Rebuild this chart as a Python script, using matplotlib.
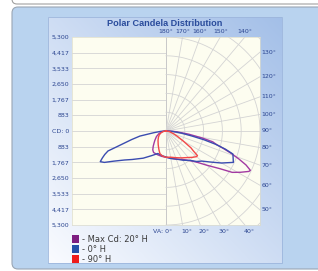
import matplotlib
matplotlib.use('Agg')
import matplotlib.pyplot as plt
import numpy as np
from matplotlib.patches import FancyBboxPatch, Rectangle

# ---- data (vertical angle in degrees from nadir, candela) ----
# 0 deg H plane (right half) and its opposite 180 deg H (left half)
blue_right_ang = [0, 10, 20, 30, 40, 45, 50, 55, 60, 65, 70, 71, 73, 75, 77, 79, 82, 86, 90]
blue_right_cd = [1470, 1580, 1680, 1900, 2170, 2430, 2640, 3050, 3610, 4190, 4020, 3990, 3500, 2900, 2200, 1500, 900, 400, 100]
blue_left_ang = [0, 10, 20, 30, 40, 50, 55, 60, 63, 65, 67, 69, 71, 72, 74, 76, 79, 82, 86, 90]
blue_left_cd = [1470, 1400, 1350, 1600, 2000, 2500, 2850, 3400, 3900, 4090, 3900, 3700, 3460, 3000, 2400, 2000, 1500, 700, 300, 80]

# 90 deg H plane (right) and 270 deg H (left)
red_right_ang = [0, 10, 20, 30, 40, 45, 50, 52, 54, 56, 60, 65, 70, 80, 90]
red_right_cd = [1480, 1500, 1600, 1750, 1950, 2100, 2250, 2250, 1900, 1700, 1100, 700, 450, 200, 50]
red_left_ang = [0, 5, 10, 15, 20, 25, 30, 40, 50, 60, 70, 80, 90]
red_left_cd = [1480, 1450, 1400, 1320, 1150, 1000, 880, 700, 560, 440, 300, 150, 40]

# max candela plane, 20 deg H (right) and 200 deg H (left)
purple_right_ang = [0, 10, 20, 30, 35, 40, 45, 50, 55, 58, 61, 64, 65, 67, 69, 71, 73, 75, 77, 79, 82, 86, 90]
purple_right_cd = [1480, 1550, 1700, 1850, 2000, 2200, 2500, 3000, 3700, 4400, 4800, 5200, 5250, 4900, 4400, 3900, 3400, 2950, 2700, 2100, 1300, 600, 150]
purple_left_ang = [0, 10, 20, 30, 35, 40, 45, 50, 60, 70, 80, 90]
purple_left_cd = [1480, 1450, 1420, 1400, 1300, 1120, 950, 820, 620, 420, 220, 60]

cd_ticks = [5300, 4417, 3533, 2650, 1767, 883, 0, -883, -1767, -2650, -3533, -4417, -5300]
cd_labels = ['5,300', '4,417', '3,533', '2,650', '1,767', '883', 'CD: 0',
             '883', '1,767', '2,650', '3,533', '4,417', '5,300']
legend_labels = ['- Max Cd: 20° H', '- 0° H', '- 90° H']
legend_colors = ['#7d1e80', '#2450a8', '#ee1c1c']
line_colors = ['#a23aa2', '#3a4cb0', '#f24848']

R = 5300
W, H = 318, 271


def curve(right_ang, right_cd, left_ang, left_cd):
    ra, rc = np.radians(right_ang), np.array(right_cd, float)
    la, lc = np.radians(left_ang), np.array(left_cd, float)
    x = np.concatenate([[0], -(lc * np.sin(la))[::-1], rc * np.sin(ra), [0]])
    y = np.concatenate([[0], -(lc * np.cos(la))[::-1], -rc * np.cos(ra), [0]])
    return x, y


fig = plt.figure(figsize=(W / 100, H / 100), dpi=100)
fig.patch.set_facecolor('white')

# ---- background decoration in pixel coords ----
bg = fig.add_axes([0, 0, 1, 1])
bg.axis('off')
bg.add_patch(FancyBboxPatch((12, -30), W + 20, 34, boxstyle='round,pad=0,rounding_size=5',
                            fc='white', ec='#a0a0a0', lw=0.8))
bg.add_patch(FancyBboxPatch((12, 7), W + 20, 262, boxstyle='round,pad=0,rounding_size=6',
                            fc='#b9d3ef', ec='#9aa6b4', lw=0.8))
gx = np.linspace(0, 1, 200)
gy = np.linspace(0, 1, 200)
GX, GY = np.meshgrid(gx, gy)
t = (GX + (1 - GY)) / 2
c0 = np.array([0.98, 0.985, 1.0])
c1 = np.array([0.64, 0.75, 0.91])
grad = c0[None, None, :] * (1 - t[..., None]) + c1[None, None, :] * t[..., None]
bg.imshow(grad, extent=(48, 282, 263, 17), origin='upper', aspect='auto', zorder=2)
bg.add_patch(Rectangle((48, 17), 234, 246, fill=False, ec='#9db6dc', lw=0.6, zorder=3))
for i, (lab, col) in enumerate(zip(legend_labels, legend_colors)):
    y0 = 235 + i * 10
    bg.add_patch(Rectangle((72, y0), 6.5, 8, fc=col, ec='none', zorder=4))
    bg.text(81.5, y0 + 4.2, lab, fontsize=6, color='#3a3a3a', va='center', ha='left', zorder=4)
bg.set_xlim(0, W)
bg.set_ylim(H, 0)

fig.text(165 / W, 1 - 23.5 / H, 'Polar Candela Distribution', ha='center', va='center',
         fontsize=6.6, fontweight='bold', color='#2a4c9c', family='Liberation Sans')

# ---- main polar-style plot ----
ax = fig.add_axes([72 / W, 1 - 225 / H, 188 / W, 188 / H])
ax.set_facecolor('#fdfdf0')
ax.set_xlim(-R, R)
ax.set_ylim(-R, R)

grid_kw = dict(color='#d4d4d4', lw=0.6, zorder=1)
step = R / 6
for k in range(1, 6):
    ax.plot([-R, 0], [k * step, k * step], **grid_kw)
    ax.plot([-R, 0], [-k * step, -k * step], **grid_kw)
ax.plot([-R, 0], [0, 0], **grid_kw)
ax.plot([0, 0], [-R, R], color='#c8c8c8', lw=0.7, zorder=1)
for a in range(10, 180, 10):
    th = np.radians(a)
    ax.plot([0, 2 * R * np.sin(th)], [0, -2 * R * np.cos(th)], **grid_kw)
th = np.radians(np.linspace(0, 180, 200))
arc_step = R / 5
for k in range(1, 8):
    ax.plot(k * arc_step * np.sin(th), -k * arc_step * np.cos(th), **grid_kw)

series = [
    (purple_right_ang, purple_right_cd, purple_left_ang, purple_left_cd),
    (blue_right_ang, blue_right_cd, blue_left_ang, blue_left_cd),
    (red_right_ang, red_right_cd, red_left_ang, red_left_cd),
]
for s, col in zip(series, line_colors):
    x, y = curve(*s)
    ax.plot(x, y, color=col, lw=1.0, zorder=3, solid_joinstyle='round')

ax.set_yticks(cd_ticks)
ax.set_yticklabels(cd_labels)
ax.set_xticks([])
ax.tick_params(length=0, labelsize=4.5, labelcolor='#2b4590', pad=2)
for sp in ax.spines.values():
    sp.set_color('#dcdccc')
    sp.set_linewidth(0.5)

lab_kw = dict(textcoords='offset points', fontsize=4.5, color='#2b4590', annotation_clip=False)
for a in range(0, 50, 10):
    txt = 'VA: 0°' if a == 0 else f'{a}°'
    xx = R * np.tan(np.radians(a))
    if a == 0:
        ax.annotate(txt, (xx, -R), xytext=(4.5, -4.5), ha='right', va='center', **lab_kw)
    else:
        ax.annotate(txt, (xx, -R), xytext=(3, -4.5), ha='center', va='center', **lab_kw)
for a in range(50, 140, 10):
    yy = -R / np.tan(np.radians(a))
    ax.annotate(f'{a}°', (R, yy), xytext=(1, 0), ha='left', va='center', **lab_kw)
for a in range(140, 190, 10):
    xx = R * np.tan(np.radians(180 - a))
    ax.annotate(f'{a}°', (xx, R), xytext=(0, 3.8), ha='center', va='center', **lab_kw)

fig.savefig('out.png', dpi=100)
